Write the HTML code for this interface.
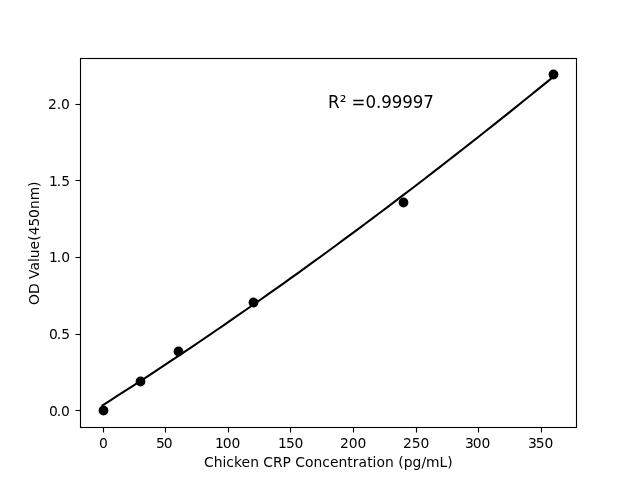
<!DOCTYPE html>
<html lang="en">
<head>
<meta charset="utf-8">
<title>Chicken CRP standard curve</title>
<style>
html,body{margin:0;padding:0;background:#fff;overflow:hidden}
body{width:640px;height:480px}
svg{display:block}
text{font-family:"DejaVu Sans", "Liberation Sans", sans-serif;fill:#000}
.t{font-size:13.889px}
.b{font-size:16.667px}
.s{stroke:#000;stroke-width:1.111;fill:none}
</style>
</head>
<body>
<svg width="640" height="480" viewBox="0 0 640 480">
<rect width="640" height="480" fill="#fff"/>
<line class="s" x1="103.5" y1="427.50" x2="103.5" y2="432.50"/>
<line class="s" x1="165.5" y1="427.50" x2="165.5" y2="432.50"/>
<line class="s" x1="228.5" y1="427.50" x2="228.5" y2="432.50"/>
<line class="s" x1="290.5" y1="427.50" x2="290.5" y2="432.50"/>
<line class="s" x1="353.5" y1="427.50" x2="353.5" y2="432.50"/>
<line class="s" x1="416.5" y1="427.50" x2="416.5" y2="432.50"/>
<line class="s" x1="478.5" y1="427.50" x2="478.5" y2="432.50"/>
<line class="s" x1="541.5" y1="427.50" x2="541.5" y2="432.50"/>
<text class="t" x="98.94" y="447.50">0</text>
<text class="t" x="155.94 163.69" y="447.50">50</text>
<text class="t" x="214.96 222.64 231.39" y="447.50">100</text>
<text class="t" x="277.88 285.95 294.40" y="447.50">150</text>
<text class="t" x="339.90 348.65 357.40" y="447.50">200</text>
<text class="t" x="402.94 411.69 420.44" y="447.50">250</text>
<text class="t" x="464.96 472.71 481.46" y="447.50">300</text>
<text class="t" x="527.94 535.69 544.44" y="447.50">350</text>
<line class="s" x1="75.50" y1="410.5" x2="80.50" y2="410.5"/>
<line class="s" x1="75.50" y1="334.5" x2="80.50" y2="334.5"/>
<line class="s" x1="75.50" y1="257.5" x2="80.50" y2="257.5"/>
<line class="s" x1="75.50" y1="180.5" x2="80.50" y2="180.5"/>
<line class="s" x1="75.50" y1="104.5" x2="80.50" y2="104.5"/>
<text class="t" x="48.92 56.67 60.95" y="415.70">0.0</text>
<text class="t" x="48.92 56.67 61.15" y="338.99">0.5</text>
<text class="t" x="48.92 56.70 61.17" y="262.28">1.0</text>
<text class="t" x="48.92 56.70 61.17" y="185.56">1.5</text>
<text class="t" x="47.92 56.67 60.95" y="108.85">2.0</text>
<polyline points="102.55,405.31 110.06,400.54 117.58,395.73 125.09,390.91 132.61,386.05 140.12,381.17 147.64,376.27 155.15,371.34 162.67,366.38 170.18,361.40 177.70,356.40 185.21,351.37 192.73,346.31 200.24,341.24 207.76,336.13 215.27,331.01 222.79,325.85 230.30,320.68 237.82,315.48 245.33,310.25 252.85,305.01 260.36,299.73 267.88,294.44 275.39,289.12 282.91,283.78 290.42,278.41 297.94,273.03 305.45,267.61 312.97,262.18 320.48,256.72 328.00,251.24 335.52,245.74 343.03,240.21 350.55,234.66 358.06,229.09 365.58,223.50 373.09,217.88 380.61,212.25 388.12,206.59 395.64,200.90 403.15,195.20 410.67,189.48 418.18,183.73 425.70,177.96 433.21,172.17 440.73,166.36 448.24,160.53 455.76,154.67 463.27,148.80 470.79,142.90 478.30,136.99 485.82,131.05 493.33,125.09 500.85,119.11 508.36,113.12 515.88,107.10 523.39,101.06 530.91,95.00 538.42,88.92 545.94,82.82 553.45,76.70" fill="none" stroke="#000" stroke-width="2.083" stroke-linecap="square" stroke-linejoin="round"/>
<circle cx="103.5" cy="410.5" r="4.89" fill="#000"/>
<circle cx="140.5" cy="381.5" r="4.89" fill="#000"/>
<circle cx="178.5" cy="351.5" r="4.89" fill="#000"/>
<circle cx="253.5" cy="302.5" r="4.89" fill="#000"/>
<circle cx="403.5" cy="202.5" r="4.89" fill="#000"/>
<circle cx="553.5" cy="74.5" r="4.89" fill="#000"/>
<rect class="s" x="80.5" y="58.5" width="496" height="369"/>
<text class="t" x="203.90 213.65 222.40 226.18 233.90 241.43 250.22 258.77 263.15 272.90 282.42 290.90 295.17 304.92 313.42 322.17 329.90 338.40 347.15 352.65 358.40 367.22 372.42 376.40 384.90 393.65 398.22 403.72 412.40 421.38 425.90 439.40 447.15" y="466.50">Chicken CRP Concentration (pg/mL)</text>
<text class="t" transform="translate(38.90 304.90) rotate(-90)" x="-0.20 10.88 21.62 25.80 34.38 42.80 46.58 55.33 64.12 69.62 78.38 86.83 95.88 104.62 117.83" y="0">OD Value(450nm)</text>
<text class="b" transform="translate(328.05 108.00) scale(1 1.060)" x="-0.10 11.62 18.38 23.43 37.40 47.90 53.15 63.65 74.15 84.65 95.15" y="0">R² =0.99997</text>
</svg>
</body>
</html>
